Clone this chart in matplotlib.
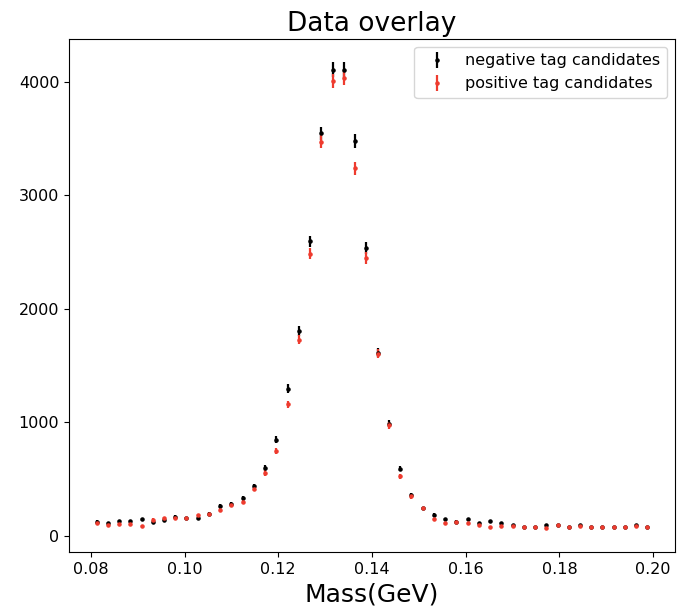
import numpy as np
import matplotlib
matplotlib.use("Agg")
import matplotlib.pyplot as plt

# 50 mass bins between 0.08 and 0.20 GeV
bin_edges = np.linspace(0.08, 0.20, 51)
mass = 0.5 * (bin_edges[:-1] + bin_edges[1:])

# counts
negative_tag = [123, 109, 126, 126, 144, 123, 141, 167, 156, 153,
                194, 264, 279, 334, 434, 595, 847, 1297, 1802, 2594,
                3546, 4109, 4109, 3479, 2535, 1612, 988, 592, 355, 241,
                185, 147, 125, 145, 112, 126, 112, 97, 79, 79,
                97, 97, 79, 97, 79, 79, 79, 79, 97, 79]
positive_tag = [112, 94, 100, 100, 82, 141, 153, 158, 156, 179,
                188, 229, 270, 299, 413, 554, 747, 1157, 1729, 2485,
                3473, 4009, 4035, 3239, 2447, 1605, 975, 522, 346, 241,
                147, 114, 122, 110, 97, 79, 82, 82, 79, 79,
                70, 97, 79, 82, 79, 79, 79, 79, 82, 79]

neg = np.array(negative_tag)
pos = np.array(positive_tag)

fig = plt.figure(figsize=(6.79, 6.12), dpi=100)
ax = fig.add_axes([0.1016, 0.098, 0.8925, 0.8383])

# poisson errors
ax.errorbar(mass, neg, yerr=np.sqrt(neg), fmt='.', color='black', ms=4.5,
            elinewidth=1.6, label='negative tag candidates')
ax.errorbar(mass, pos, yerr=np.sqrt(pos), fmt='.', color='#ee3b2e', ms=4.5,
            elinewidth=1.6, label='positive tag candidates')

ax.set_title('Data overlay', fontsize=19)
ax.set_xlabel('Mass(GeV)', fontsize=18)
ax.tick_params(labelsize=11.5)
ax.legend(loc='upper right', fontsize=11.5)

fig.savefig('out.png', dpi=100)
